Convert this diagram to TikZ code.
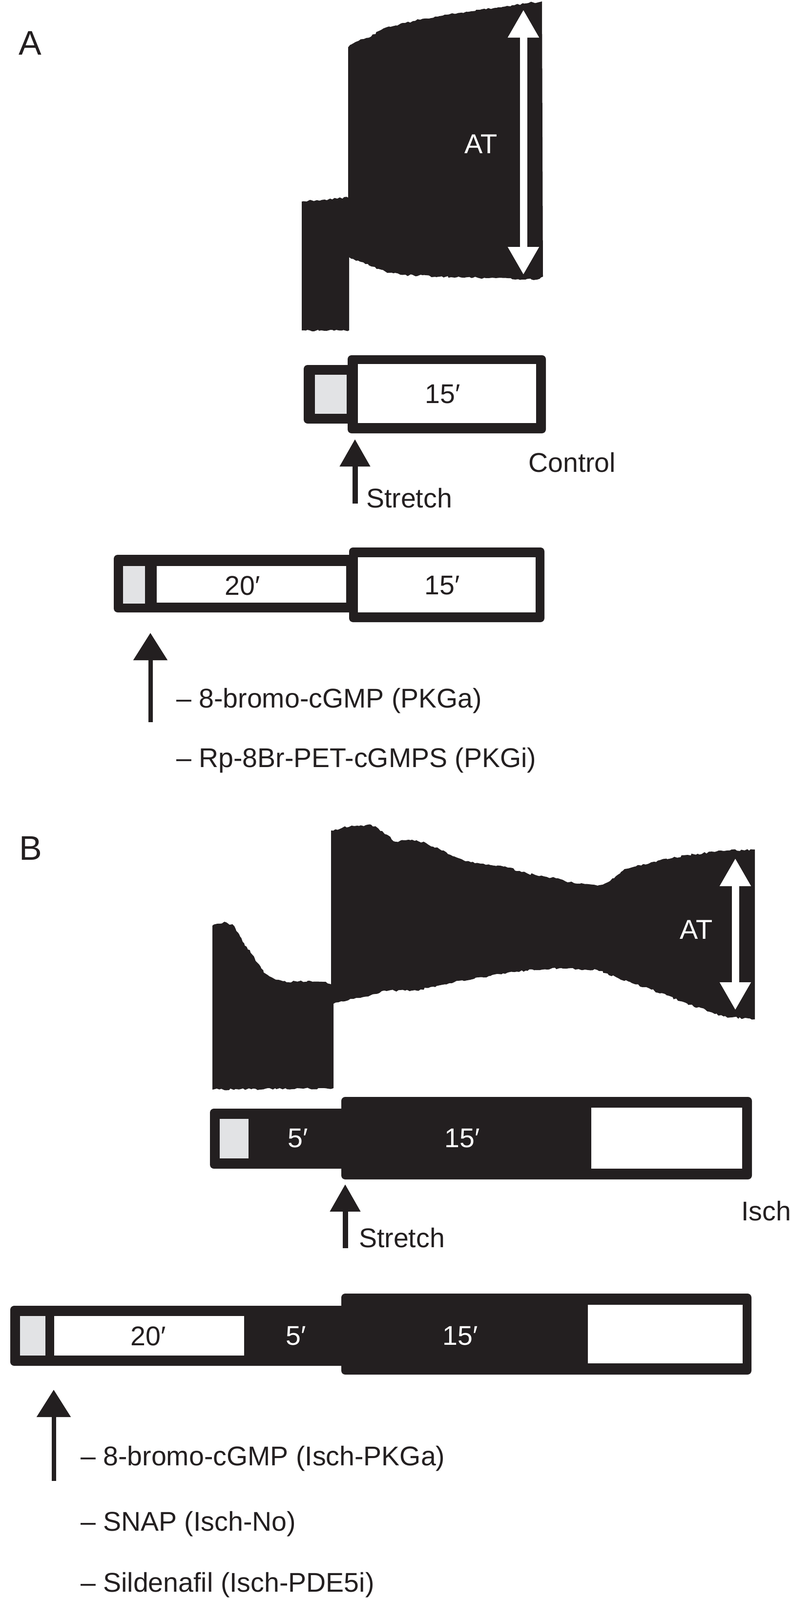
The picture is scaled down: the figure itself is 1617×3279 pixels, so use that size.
\documentclass[tikz,border=0pt]{standalone}
\usepackage{fontspec}
\setmainfont{Liberation Sans}
\usetikzlibrary{arrows.meta,decorations.pathmorphing}
\definecolor{ink}{RGB}{35,31,32}
\definecolor{pale}{RGB}{226,227,229}
\begin{document}
\begin{tikzpicture}[x=1pt,y=-1pt,
  txt/.style={font=\fontsize{55.5}{62}\selectfont, inner sep=0pt, text=ink},
  wtxt/.style={txt, text=white},
  panel/.style={font=\fontsize{70}{80}\selectfont, inner sep=0pt, text=ink},
  attxt/.style={font=\fontsize{56}{64}\selectfont, inner sep=0pt, text=white},
  trace/.style={fill=ink, draw=none},
  rough/.style={decoration={random steps, segment length=5pt, amplitude=2pt}},
  outer/.style={fill=ink, draw=none, rounded corners=8pt},
  blank/.style={fill=white, draw=none},
  veil/.style={fill=pale, draw=none},
  uparrow/.style={draw=ink, line width=11pt, -{Triangle[length=56pt, width=60pt]}},
  bigup/.style={draw=ink, line width=9pt, -{Triangle[length=56pt, width=68pt]}},
  atarrow/.style={draw=white, line width=15pt, {Triangle[length=57pt,width=60pt]}-{Triangle[length=57pt,width=60pt]}}
]
\useasboundingbox (0,0) rectangle (1617,3279);

% ---------------- Panel A ----------------
\node[panel] (labA) at (62,88) {A};

\fill[trace] (618,413) decorate[rough]{-- (665,409) -- (713,405)} -- (713,97)
  decorate[rough]{-- (725,88) -- (745,80) -- (760,75) -- (777,63) -- (800,55) -- (830,47)
  -- (857,40) -- (900,33) -- (967,23) -- (1020,15) -- (1083,6) -- (1110,3)}
  -- (1112,567)
  decorate[rough]{-- (1100,573) -- (1000,570) -- (900,567) -- (820,563) -- (790,557) -- (715,527)}
  -- (715,677) decorate[rough]{-- (618,677)} -- cycle;
\coordinate (atA1) at (1072,20);
\coordinate (atA2) at (1072,563);
\draw[atarrow] (atA1) -- (atA2);
\node[attxt] (atA) at (985,295) {AT};

% control protocol
\fill[outer] (622,748) rectangle (735,868);
\fill[outer] (712,728) rectangle (1118,888);
\fill[veil] (645,768) rectangle (710,848);
\fill[blank] (733,746) rectangle (1098,867);
\node[txt] (cA15) at (907,808) {15′};

\coordinate (sA0) at (727,1032);
\coordinate (sA1) at (727,900);
\draw[uparrow] (sA0) -- (sA1);
\node[txt, anchor=base west] (stretchA) at (750,1040) {Stretch};
\node[txt, anchor=base west] (control) at (1082,967) {Control};

% drug protocol A
\fill[outer] (233,1137) rectangle (730,1255);
\fill[outer] (715,1122) rectangle (1115,1275);
\fill[veil] (252,1160) rectangle (297,1237);
\fill[blank] (321,1160) rectangle (709,1235);
\fill[blank] (733,1142) rectangle (1097,1255);
\node[txt] (dA20) at (497,1200) {20′};
\node[txt] (dA15) at (906,1200) {15′};

\coordinate (dA0) at (308,1480);
\coordinate (dA1) at (308,1297);
\draw[bigup] (dA0) -- (dA1);
\node[txt, anchor=base west] (pkga) at (361,1450) {– 8-bromo-cGMP (PKGa)};
\node[txt, anchor=base west] (pkgi) at (361,1572) {– Rp-8Br-PET-cGMPS (PKGi)};

% ---------------- Panel B ----------------
\node[panel] (labB) at (63,1738) {B};

\fill[trace] (435,2233) -- (435,1897)
  decorate[rough]{-- (445,1893) -- (463,1890) -- (480,1898)
  -- (490,1915) -- (497,1930) -- (505,1940) -- (520,1960) -- (540,1993) -- (560,2005)
  -- (587,2013) -- (630,2010) -- (667,2012) -- (678,2017)} -- (678,1702)
  decorate[rough]{-- (700,1697)
  -- (720,1692) -- (745,1693) -- (760,1690) -- (775,1698) -- (795,1712) -- (810,1725)
  -- (830,1722) -- (853,1722) -- (873,1728) -- (900,1740) -- (930,1755) -- (953,1765)
  -- (990,1770) -- (1040,1778) -- (1080,1790) -- (1114,1796) -- (1143,1800)
  -- (1165,1808) -- (1187,1811) -- (1224,1815) -- (1245,1808) -- (1261,1796)
  -- (1279,1781) -- (1334,1767) -- (1408,1752) -- (1489,1743) -- (1546,1741)}
  -- (1546,2089)
  decorate[rough]{-- (1482,2083) -- (1408,2057) -- (1334,2028) -- (1261,2002)
  -- (1224,1988) -- (1150,1984) -- (1077,1989) -- (1040,1993) -- (920,2015)
  -- (853,2030) -- (787,2030) -- (777,2035) -- (713,2050) -- (683,2057)}
  -- (683,2230) decorate[rough]{-- (435,2233)} -- cycle;
\coordinate (atB1) at (1506,1759);
\coordinate (atB2) at (1506,2070);
\draw[atarrow] (atB1) -- (atB2);
\node[attxt] (atB) at (1426,1905) {AT};

% ischemia protocol
\fill[outer] (430,2272) rectangle (720,2395);
\fill[outer] (699,2248) rectangle (1540,2417);
\fill[veil] (450,2293) rectangle (509,2374);
\fill[blank] (1211,2270) rectangle (1520,2395);
\node[wtxt] (iB5) at (610,2333) {5′};
\node[wtxt] (iB15) at (947,2333) {15′};

\coordinate (sB0) at (707,2558);
\coordinate (sB1) at (707,2427);
\draw[uparrow] (sB0) -- (sB1);
\node[txt, anchor=base west] (stretchB) at (735,2556) {Stretch};
\node[txt, anchor=base west] (isch) at (1518,2501) {Isch};

% drug + ischemia protocol
\fill[outer] (21,2676) rectangle (720,2799);
\fill[outer] (699,2651) rectangle (1539,2817);
\fill[veil] (41,2697) rectangle (93,2778);
\fill[blank] (111,2697) rectangle (500,2778);
\fill[blank] (1204,2674) rectangle (1521,2794);
\node[txt] (dB20) at (304,2738) {20′};
\node[wtxt] (dB5) at (606,2738) {5′};
\node[wtxt] (dB15) at (943,2738) {15′};

\coordinate (dB0) at (110,3035);
\coordinate (dB1) at (110,2848);
\draw[bigup] (dB0) -- (dB1);
\node[txt, anchor=base west] (ipkga) at (165,3003) {– 8-bromo-cGMP (Isch-PKGa)};
\node[txt, anchor=base west] (ino) at (165,3137) {– SNAP (Isch-No)};
\node[txt, anchor=base west] (ipde) at (165,3262) {– Sildenafil (Isch-PDE5i)};
\end{tikzpicture}
\end{document}
